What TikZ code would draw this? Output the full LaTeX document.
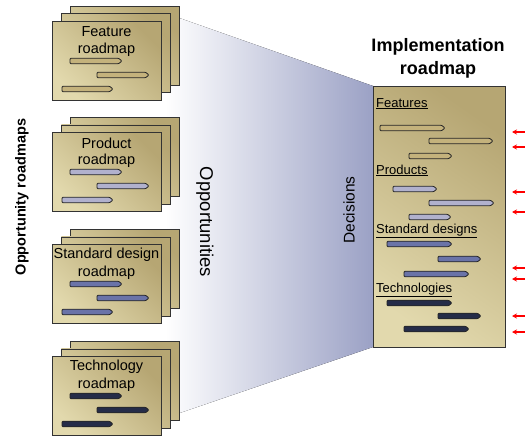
\documentclass[tikz,border=0pt]{standalone}
\usepackage{fontspec}
\setmainfont{Liberation Sans}
\usetikzlibrary{arrows.meta}
\definecolor{cardlight}{HTML}{E2D9AD}
\definecolor{carddark}{HTML}{B6A673}
\definecolor{funnelc}{HTML}{9BA1C5}
\definecolor{edgec}{HTML}{333333}
\definecolor{featbar}{HTML}{C4B27C}
\definecolor{prodbar}{HTML}{B1B1CD}
\definecolor{sdbar}{HTML}{6A73A8}
\definecolor{techbar}{HTML}{252C48}
\tikzset{
  card/.style={draw=edgec, line width=0.9pt, top color=carddark, bottom color=cardlight, shading angle=-45,
     minimum width=109pt, minimum height=79pt, inner sep=0pt, anchor=north west},
  cardtext/.style={inner sep=0pt, font=\fontsize{14.5}{15}\selectfont},
  barline/.style={draw=black!85, line width=0.8pt, rounded corners=1pt},
  redarrow/.style={draw=red, line width=1.4pt, -{Stealth[length=5pt,width=5pt]}},
  sect/.style={inner sep=0pt, anchor=base west, font=\fontsize{13}{14}\selectfont},
}
\newcommand\rbar[4]{\draw[barline, fill=#4] (#1,#3-2.8) -- (#2-3.5,#3-2.8) -- (#2,#3) -- (#2-3.5,#3+2.8) -- (#1,#3+2.8) -- cycle;}
\newcommand\cardstack[5]{%
  \node[card] (#1-back) at (70,#2-15) {};
  \node[card] (#1-mid) at (61,#2-7.5) {};
  \node[card] (#1-front) at (52,#2) {};
  \node[cardtext] (#1-l1) at (106.5,#2+11) {#3};
  \node[cardtext] (#1-l2) at (106.5,#2+29) {#4};
  \rbar{70}{122}{#2+40}{#5}
  \rbar{97}{149}{#2+54}{#5}
  \rbar{62}{113}{#2+68}{#5}
}
\begin{document}
\begin{tikzpicture}[x=1pt,y=-1pt]
\useasboundingbox[fill=white] (0,0) rectangle (525,436);
% funnel
\fill[left color=white, right color=funnelc] (165,13) -- (373,86) -- (373,347) -- (165,418) -- cycle;
\node[inner sep=0pt, rotate=-90, font=\fontsize{18.5}{19}\selectfont] (opp) at (205,222) {Opportunities};
\node[inner sep=0pt, rotate=90, font=\fontsize{15.5}{16}\selectfont] (dec) at (349,210) {Decisions};
% left label
\node[inner sep=0pt, rotate=90, font=\fontsize{14.5}{15}\selectfont\bfseries] (oppr) at (22,197) {Opportunity roadmaps};
% stacks
\cardstack{feat}{21}{Feature}{roadmap}{featbar}
\cardstack{prod}{132}{Product}{roadmap}{prodbar}
\cardstack{sd}{244}{Standard design}{roadmap}{sdbar}
\cardstack{tech}{356}{Technology}{roadmap}{techbar}
% implementation roadmap
\node[inner sep=0pt, align=center, font=\fontsize{18}{23}\selectfont\bfseries] (title) at (438,58) {Implementation\\roadmap};
\node[draw=edgec, line width=0.9pt, top color=carddark, bottom color=cardlight, shading angle=-35,
      minimum width=132pt, minimum height=261pt, inner sep=0pt, anchor=north west] (impl) at (373,86) {};
\node[sect] (sf) at (376,107) {\underline{Features}};
\node[sect] (sp) at (376,174) {\underline{Products}};
\node[sect] (ss) at (376,233) {\underline{Standard designs}};
\node[sect] (st) at (376,292) {\underline{Technologies}};
\rbar{380}{445}{128}{featbar}
\rbar{429}{493}{141}{featbar}
\rbar{409}{452}{156}{featbar}
\rbar{393}{437}{189}{prodbar}
\rbar{429}{494}{203}{prodbar}
\rbar{409}{451}{217}{prodbar}
\rbar{387}{452}{244}{sdbar}
\rbar{438}{481}{259}{sdbar}
\rbar{404}{469}{274}{sdbar}
\rbar{387}{452}{303}{techbar}
\rbar{438}{481}{316}{techbar}
\rbar{404}{469}{329}{techbar}
% red arrows
\foreach \i/\yy in {1/132,2/147,3/192,4/212,5/268,6/279,7/316,8/332}{
  \coordinate (ras\i) at (526,\yy);
  \coordinate (rae\i) at (512,\yy);
  \draw[redarrow] (ras\i) -- (rae\i);
}
\end{tikzpicture}
\end{document}
